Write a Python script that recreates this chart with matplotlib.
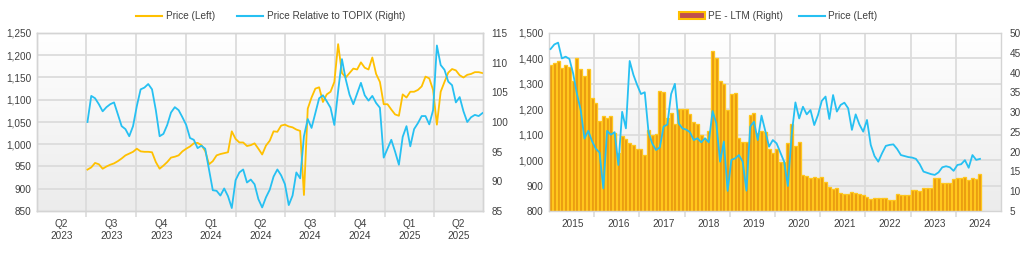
import matplotlib
matplotlib.use('Agg')
import matplotlib.pyplot as plt
import matplotlib.dates as mdates
import matplotlib.ticker as mticker
from matplotlib.patches import Patch
from matplotlib.lines import Line2D
import numpy as np
import pandas as pd

plt.rcParams['font.family'] = ['Liberation Sans', 'DejaVu Sans']

# ---------------- Left chart data (weekly) ----------------
left_start = '2023-07-03'
price_left = [943, 948, 958, 955, 945, 950, 954, 957, 962, 968,
              975, 979, 983, 990, 984, 983, 983, 982, 960, 945,
              952, 960, 970, 972, 975, 984, 990, 995, 1002, 1003,
              998, 985, 955, 962, 975, 978, 980, 982, 1029, 1012,
              1004, 1004, 996, 998, 1002, 990, 977, 997, 1008, 1029,
              1028, 1042, 1044, 1040, 1038, 1033, 1030, 886, 1080, 1105,
              1125, 1128, 1095, 1112, 1118, 1140, 1225, 1160, 1150, 1160,
              1170, 1168, 1184, 1172, 1168, 1195, 1158, 1140, 1090, 1090,
              1078, 1067, 1064, 1112, 1105, 1118, 1118, 1122, 1130, 1152,
              1148, 1122, 1044, 1118, 1140, 1161, 1169, 1166, 1155, 1150,
              1156, 1158, 1162, 1162, 1160]
rel_topix = [100.0, 104.4, 104.0, 103.0, 101.8, 102.5, 103.0, 103.3, 101.3, 99.3,
             98.8, 97.6, 99.3, 102.7, 105.5, 105.8, 106.4, 105.5, 102.0, 97.6,
             98.0, 99.5, 101.6, 102.5, 102.0, 100.8, 99.5, 97.3, 97.0, 95.6,
             96.0, 95.5, 92.0, 88.5, 88.4, 87.6, 88.8, 87.5, 85.5, 90.2,
             91.5, 92.0, 89.8, 90.3, 89.5, 87.0, 85.6, 87.3, 88.6, 90.8,
             92.0, 91.0, 89.5, 86.0, 87.6, 91.5, 90.5, 97.6, 100.5, 99.0,
             101.5, 104.0, 104.5, 103.5, 102.4, 99.5, 105.2, 110.6, 107.2, 104.6,
             103.0, 104.8, 106.6, 104.5, 103.6, 104.4, 103.2, 102.4, 94.0, 95.5,
             97.0, 95.0, 92.8, 97.5, 99.3, 95.9, 98.8, 99.8, 101.0, 101.0,
             99.6, 102.0, 112.9, 109.6, 108.8, 106.8, 106.2, 103.3, 104.2, 101.8,
             100.0, 100.8, 101.2, 101.0, 101.5]
quarter_labels = ['Q2\n2023', 'Q3\n2023', 'Q4\n2023', 'Q1\n2024', 'Q2\n2024',
                  'Q3\n2024', 'Q4\n2024', 'Q1\n2025', 'Q2\n2025']

# ---------------- Right chart data (monthly) ----------------
right_start_year = 2014.5
pe_ltm = [41.9, 42.5, 42.8, 41.1, 41.8, 41.3, 37.9, 43.6, 41.0, 39.1,
          40.9, 33.6, 32.4, 27.8, 29.1, 28.5, 29.1, 24.7, 19.6, 24.0,
          23.2, 22.3, 21.8, 20.6, 20.8, 19.2, 25.6, 24.2, 24.5, 35.4,
          35.2, 28.5, 29.7, 27.0, 30.9, 30.7, 30.7, 29.5, 27.5, 27.0,
          24.2, 23.2, 25.2, 45.5, 43.8, 37.9, 37.1, 30.5, 34.5, 34.9,
          23.4, 22.5, 22.5, 29.3, 29.7, 24.6, 25.2, 25.0, 20.8, 19.6,
          20.6, 17.5, 17.5, 22.3, 27.0, 21.5, 22.5, 14.1, 13.9, 13.3,
          13.7, 13.3, 13.5, 12.4, 11.1, 10.6, 10.8, 9.5, 9.2, 9.2,
          9.7, 9.6, 9.2, 9.1, 8.6, 8.0, 8.2, 8.2, 8.2, 8.2,
          7.9, 7.9, 9.2, 9.1, 9.1, 9.1, 10.2, 10.2, 10.1, 10.8,
          10.8, 10.8, 13.3, 13.3, 12.0, 12.2, 12.2, 13.0, 13.4, 13.4,
          13.5, 12.9, 13.3, 13.2, 14.3]
price_right = [1437, 1455, 1462, 1400, 1407, 1398, 1340, 1260, 1197, 1085,
               1115, 1075, 1045, 1030, 889, 1115, 1100, 1110, 981, 1190,
               1125, 1390, 1335, 1295, 1260, 1267, 1110, 1065, 1040, 1050,
               1132, 1140, 1260, 1300, 1145, 1125, 1120, 1110, 1079, 1086,
               1070, 1086, 1070, 1193, 1145, 994, 1073, 879, 1001, 1007,
               1020, 994, 880, 1132, 1151, 1079, 1175, 1115, 1053, 1079,
               1066, 1030, 994, 898, 1100, 1227, 1164, 1210, 1180, 1197,
               1138, 1178, 1233, 1250, 1162, 1256, 1191, 1217, 1226, 1204,
               1119, 1180, 1140, 1112, 1158, 1060, 1016, 994, 1027, 1056,
               1060, 1062, 1044, 1020, 1016, 1012, 1010, 1005, 984, 955,
               950, 945, 942, 952, 972, 976, 972, 958, 981, 984,
               1000, 970, 1020, 1001, 1005]
year_labels = [2015, 2016, 2017, 2018, 2019, 2020, 2021, 2022, 2023, 2024]

# ---------------- styles ----------------
YELLOW = '#FFC000'
BLUE = '#26C0F2'
TXT = '#404040'
GRID = '#DCDCDC'
FS = 7.2

fig = plt.figure(figsize=(10.24, 2.77), dpi=100)
W, H = 1024.0, 277.0


def gradient_bg(pos):
    bg = fig.add_axes(pos, zorder=0)
    grad = np.linspace(1.0, 0.925, 256).reshape(-1, 1)
    bg.imshow(np.dstack([grad, grad, grad]), extent=[0, 1, 0, 1],
              aspect='auto', transform=bg.transAxes, zorder=0)
    return bg


def style_spines(ax):
    for s in ax.spines.values():
        s.set_color('#D4D4D4')
        s.set_linewidth(1.0)


# ================= LEFT CHART =================
posL = [37 / W, (H - 211) / H, (483 - 37) / W, (211 - 33) / H]
bgL = gradient_bg(posL)
xL = pd.date_range(left_start, periods=len(price_left), freq='7D')
qbounds = pd.date_range('2023-04-01', '2025-07-01', freq='QS')
qnum = mdates.date2num(qbounds)
qmid = (qnum[:-1] + qnum[1:]) / 2
bgL.set_xlim(qnum[0], qnum[-1])
bgL.set_ylim(850, 1250)
bgL.set_xticks(qnum[1:-1])
bgL.set_yticks(np.arange(900, 1250, 50))
bgL.grid(True, color=GRID, linewidth=1.3)
bgL.tick_params(length=0, labelleft=False, labelbottom=False)
for s in bgL.spines.values():
    s.set_visible(False)

axL = fig.add_axes(posL, zorder=1)
axL.patch.set_visible(False)
axL.plot(mdates.date2num(xL), price_left, color=YELLOW, lw=1.3, zorder=3)
axL.set_xlim(qnum[0], qnum[-1])
axL.set_ylim(850, 1250)
axL.set_yticks(np.arange(850, 1251, 50))
axL.yaxis.set_major_formatter(mticker.StrMethodFormatter('{x:,.0f}'))
axL.set_xticks(qmid)
axL.set_xticklabels(quarter_labels)
axL.set_xticks(qnum[1:-1], minor=True)
axL.tick_params(axis='x', which='major', length=0, pad=6, labelsize=FS, colors=TXT)
axL.tick_params(axis='x', which='minor', length=4, width=1.2, color=GRID)
axL.tick_params(axis='y', length=0, pad=4, labelsize=FS, colors=TXT)
style_spines(axL)

axL2 = axL.twinx()
axL2.plot(mdates.date2num(xL), rel_topix, color=BLUE, lw=1.3, zorder=4)
axL2.set_ylim(85, 115)
axL2.set_yticks(np.arange(85, 116, 5))
axL2.tick_params(axis='y', length=0, pad=6, labelsize=FS, colors=TXT)
style_spines(axL2)

handlesL = [Line2D([], [], color=YELLOW, lw=1.5), Line2D([], [], color=BLUE, lw=1.5)]
fig.legend(handlesL, ['Price (Left)', 'Price Relative to TOPIX (Right)'],
           loc='center', bbox_to_anchor=(271 / W, 1 - 16 / H), ncol=2,
           frameon=False, fontsize=FS, handlelength=2.6, handletextpad=0.4,
           columnspacing=2.2, labelcolor=TXT)

# ================= RIGHT CHART =================
posR = [549 / W, (H - 211) / H, (1001 - 549) / W, (211 - 33) / H]
bgR = gradient_bg(posR)
xR = right_start_year + np.arange(len(pe_ltm)) / 12.0
x0 = 2014.465
x1 = 2024.465
ybounds = np.arange(x0 + 1, x1, 1.0)
bgR.set_xlim(x0, x1)
bgR.set_ylim(800, 1500)
bgR.set_xticks(ybounds)
bgR.set_yticks(np.arange(900, 1500, 100))
bgR.grid(True, color=GRID, linewidth=1.3)
bgR.tick_params(length=0, labelleft=False, labelbottom=False)
for s in bgR.spines.values():
    s.set_visible(False)

axR2 = fig.add_axes(posR, zorder=1)  # PE bars (right axis)
axR2.patch.set_visible(False)
axR2.bar(xR, pe_ltm, width=0.066, color='#E8970F', edgecolor='#FFC71C',
         linewidth=0.95, zorder=2)
axR2.set_xlim(x0, x1)
axR2.set_ylim(5, 50)
axR2.yaxis.tick_right()
axR2.set_yticks(np.arange(5, 51, 5))
axR2.tick_params(axis='y', length=0, pad=6, labelsize=FS, colors=TXT)
axR2.set_xticks(year_labels)
axR2.set_xticklabels([str(y) for y in year_labels])
axR2.set_xticks(ybounds, minor=True)
axR2.tick_params(axis='x', which='major', length=0, pad=6, labelsize=FS, colors=TXT)
axR2.tick_params(axis='x', which='minor', length=4, width=1.2, color=GRID)
style_spines(axR2)

axR = fig.add_axes(posR, zorder=2)  # price line (left axis)
axR.patch.set_visible(False)
axR.plot(xR, price_right, color=BLUE, lw=1.3, zorder=3)
axR.set_xlim(x0, x1)
axR.set_ylim(800, 1500)
axR.set_yticks(np.arange(800, 1501, 100))
axR.yaxis.set_major_formatter(mticker.StrMethodFormatter('{x:,.0f}'))
axR.tick_params(axis='y', length=0, pad=4, labelsize=FS, colors=TXT)
axR.set_xticks([])
for s in axR.spines.values():
    s.set_visible(False)

handlesR = [Patch(facecolor='#C0504D', edgecolor=YELLOW, linewidth=1.5),
            Line2D([], [], color=BLUE, lw=1.5)]
fig.legend(handlesR, ['PE - LTM (Right)', 'Price (Left)'],
           loc='center', bbox_to_anchor=(778 / W, 1 - 16 / H), ncol=2,
           frameon=False, fontsize=FS, handlelength=2.6, handleheight=0.6,
           handletextpad=0.3, columnspacing=1.6, labelcolor=TXT)

fig.savefig('out.png', dpi=100, facecolor='white')
